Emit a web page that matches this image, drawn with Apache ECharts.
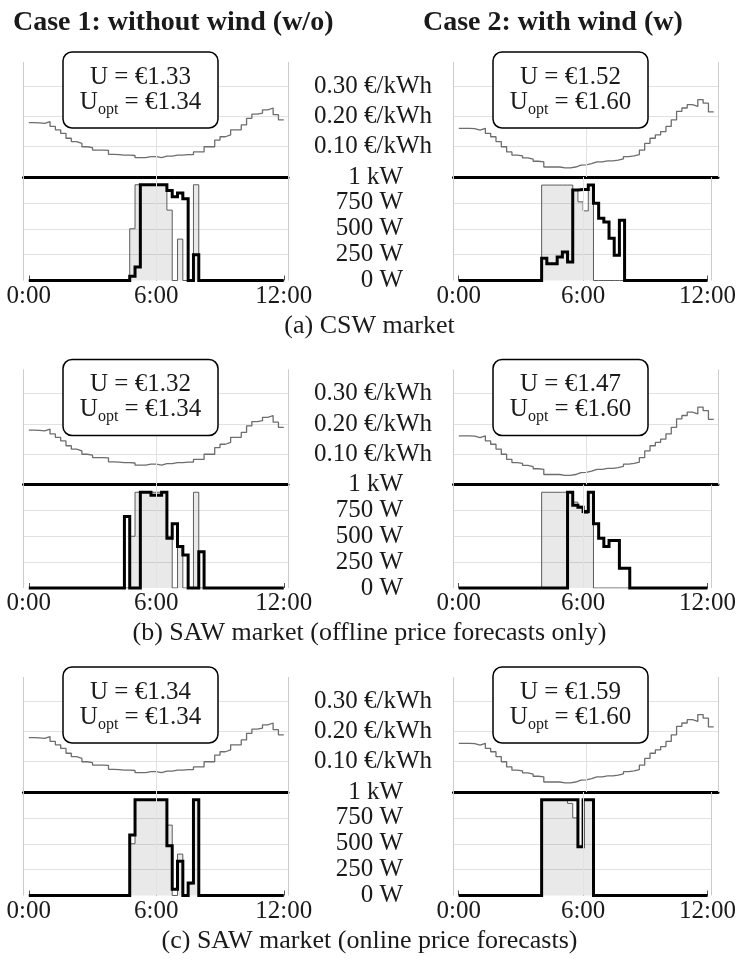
<!DOCTYPE html>
<html>
<head>
<meta charset="utf-8">
<script src="https://cdn.jsdelivr.net/npm/echarts@6/dist/echarts.min.js"></script>
<style>
  html, body { margin: 0; padding: 0; background: #fff; }
  #chart { width: 739px; height: 962px; }
</style>
</head>
<body>
<div id="chart"></div>
<script>
// ---- data -------------------------------------------------------------
const SLOT_HOURS = 0.25;               // one value per 15-minute slot
const timeTicks = [0, 6, 12];          // hours labelled on the time axis
const priceTicks = [0.1, 0.2, 0.3];    // €/kWh labels
const powerTicks = [0, 250, 500, 750, 1000];

const caseTitles = ['Case 1: without wind (w/o)', 'Case 2: with wind (w)'];
const marketCaptions = [
  '(a) CSW market',
  '(b) SAW market (offline price forecasts only)',
  '(c) SAW market (online price forecasts)'
];

// electricity price, €/kWh per slot
const priceWithout = [0.180,0.179,0.177,0.183,0.167,0.156,0.144,0.128,0.117,0.111,
  0.100,0.097,0.089,0.089,0.088,0.075,0.074,0.072,0.072,0.071,
  0.064,0.064,0.067,0.067,0.064,0.069,0.069,0.072,0.072,0.074,
  0.074,0.083,0.083,0.100,0.100,0.122,0.133,0.139,0.156,0.156,
  0.172,0.194,0.208,0.211,0.222,0.228,0.206,0.189];
const priceWith = [0.161,0.161,0.160,0.155,0.161,0.144,0.133,0.117,0.100,0.083,
  0.072,0.070,0.063,0.059,0.052,0.050,0.033,0.033,0.033,0.030,
  0.030,0.033,0.039,0.040,0.044,0.050,0.050,0.053,0.053,0.056,
  0.060,0.067,0.070,0.074,0.089,0.111,0.128,0.139,0.150,0.167,
  0.189,0.217,0.228,0.239,0.233,0.256,0.244,0.215];

// utility reached vs. optimum, € (rows: CSW, SAW offline, SAW online; cols: w/o, w)
const utilityU   = [[1.33, 1.52], [1.32, 1.47], [1.34, 1.59]];
const utilityOpt = [[1.34, 1.60], [1.34, 1.60], [1.34, 1.60]];

// power schedules, W per slot (opt = optimal schedule, act = realised schedule)
const optCswWithout = [0,0,0,0,0,0,0,0,0,0, 0,0,0,0,0,0,0,0,0,500,
  925,925,925,925,925,925,680,0,400,0, 0,925,0,0,0,0,0,0,0,0,
  0,0,0,0,0,0,0,0];
const actCswWithout = [0,0,0,0,0,0,0,0,0,0, 0,0,0,0,0,0,0,0,0,40,
  130,925,925,925,925,925,870,810,845,790, 0,250,0,0,0,0,0,0,0,0,
  0,0,0,0,0,0,0,0];
const optCswWith = [0,0,0,0,0,0,0,0,0,0, 0,0,0,0,0,0,922,922,922,922,
  922,922,874,760,673,922,0,0,0,0, 0,0,0,0,0,0,0,0,0,0,
  0,0,0,0,0,0,0,0];
const actCswWith = [0,0,0,0,0,0,0,0,0,0, 0,0,0,0,0,0,214,162,162,226,
  275,178,874,880,880,922,747,602,566,408, 243,583,0,0,0,0,0,0,0,0,
  0,0,0,0,0,0,0,0];
const optSawOffWithout = [0,0,0,0,0,0,0,0,0,0, 0,0,0,0,0,0,0,0,0,500,
  925,925,925,925,925,925,500,0,400,0, 0,925,0,0,0,0,0,0,0,0,
  0,0,0,0,0,0,0,0];
const actSawOffWithout = [0,0,0,0,0,0,0,0,0,0, 0,0,0,0,0,0,0,0,690,0,
  0,925,925,895,895,925,480,620,400,320, 0,0,350,0,0,0,0,0,0,0,
  0,0,0,0,0,0,0,0];
const optSawOffWith = [0,0,0,0,0,0,0,0,0,0, 0,0,0,0,0,0,925,925,925,925,
  925,925,830,790,720,925,0,0,0,0, 0,0,0,0,0,0,0,0,0,0,
  0,0,0,0,0,0,0,0];
const actSawOffWith = [0,0,0,0,0,0,0,0,0,0, 0,0,0,0,0,0,0,0,0,0,
  0,925,800,780,740,925,620,480,400,460, 460,190,190,0,0,0,0,0,0,0,
  0,0,0,0,0,0,0,0];
const optSawOnWithout = [0,0,0,0,0,0,0,0,0,0, 0,0,0,0,0,0,0,0,0,500,
  925,925,925,925,925,925,680,0,400,0, 110,925,0,0,0,0,0,0,0,0,
  0,0,0,0,0,0,0,0];
const actSawOnWithout = [0,0,0,0,0,0,0,0,0,0, 0,0,0,0,0,0,0,0,0,585,
  925,925,925,925,925,925,480,60,330,0, 120,925,0,0,0,0,0,0,0,0,
  0,0,0,0,0,0,0,0];
const optSawOnWith = [0,0,0,0,0,0,0,0,0,0, 0,0,0,0,0,0,925,925,925,925,
  925,890,750,470,925,925,0,0,0,0, 0,0,0,0,0,0,0,0,0,0,
  0,0,0,0,0,0,0,0];
const actSawOnWith = [0,0,0,0,0,0,0,0,0,0, 0,0,0,0,0,0,925,925,925,925,
  925,925,925,470,925,925,0,0,0,0, 0,0,0,0,0,0,0,0,0,0,
  0,0,0,0,0,0,0,0];

// ---- layout & style ---------------------------------------------------
const FONT = '"Liberation Serif", "DejaVu Serif", serif';
const INK = '#1a1a1a';
const GRID_C = '#e2e2e2';
const FRAME_C = '#cccccc';
const COL_LEFT = [23.5, 453.5];
const COL_SHIFT = [0, 430];
const ROW_SHIFT = [0, 307.5, 615];
const PLOT_W = 264.5;
const X_MIN = -0.25, X_MAX = 12.2;
const PRICE_MAX = 0.38;

const panels = [
  { row: 0, col: 0, price: priceWithout, opt: optCswWithout,    act: actCswWithout },
  { row: 0, col: 1, price: priceWith,    opt: optCswWith,       act: actCswWith },
  { row: 1, col: 0, price: priceWithout, opt: optSawOffWithout, act: actSawOffWithout },
  { row: 1, col: 1, price: priceWith,    opt: optSawOffWith,    act: actSawOffWith },
  { row: 2, col: 0, price: priceWithout, opt: optSawOnWithout,  act: actSawOnWithout },
  { row: 2, col: 1, price: priceWith,    opt: optSawOnWith,     act: actSawOnWith }
];

// piecewise-constant slots -> step points, closing the last slot
function toSteps(values) {
  const pts = values.map((v, k) => [k * SLOT_HOURS, v]);
  pts.push([values.length * SLOT_HOURS, values[values.length - 1]]);
  return pts;
}

// light frame edges plus the 6:00 grid line
function frameMarks() {
  return {
    silent: true, symbol: ['none', 'none'], label: { show: false }, animation: false,
    data: [
      { xAxis: X_MIN, lineStyle: { color: FRAME_C, width: 1, type: 'solid' } },
      { xAxis: 6,     lineStyle: { color: GRID_C,  width: 1, type: 'solid' } },
      { xAxis: X_MAX, lineStyle: { color: FRAME_C, width: 1, type: 'solid' } }
    ]
  };
}

const labelText = { fontFamily: FONT, fontSize: 25, color: INK };
const grids = [], xAxes = [], yAxes = [], series = [], graphics = [];

panels.forEach((p) => {
  const left = COL_LEFT[p.col];
  const dy = ROW_SHIFT[p.row];

  // price plot
  const gi = grids.length;
  grids.push({ left: left, top: 62 + dy, width: PLOT_W, height: 115 });
  xAxes.push({
    gridIndex: gi, type: 'value', min: X_MIN, max: X_MAX,
    axisLine: { show: true, onZero: false, lineStyle: { color: '#000', width: 3 } },
    axisTick: { show: false }, axisLabel: { show: false }, splitLine: { show: false }
  });
  yAxes.push({
    gridIndex: gi, type: 'value', min: 0, max: PRICE_MAX, interval: 0.1,
    axisLine: { show: false }, axisTick: { show: false },
    splitLine: { show: true, showMinLine: false, showMaxLine: false, lineStyle: { color: GRID_C, width: 1 } },
    axisLabel: p.col === 1
      ? Object.assign({ show: true, margin: 21.5, customValues: priceTicks,
          formatter: (v) => v.toFixed(2) + ' €/kWh' }, labelText)
      : { show: false }
  });
  series.push({
    type: 'line', xAxisIndex: gi, yAxisIndex: gi, data: toSteps(p.price), step: 'end',
    symbol: 'none', silent: true, z: 3,
    lineStyle: { color: '#6d6d6d', width: 1.3 },
    markLine: frameMarks()
  });

  // power plot
  const gp = grids.length;
  grids.push({ left: left, top: 177 + dy, width: PLOT_W, height: 103.5 });
  xAxes.push({
    gridIndex: gp, type: 'value', min: X_MIN, max: X_MAX,
    axisLine: { show: false },
    axisTick: { show: true, inside: true, length: 5, customValues: timeTicks, lineStyle: { color: '#555' } },
    axisLabel: Object.assign({ show: true, margin: 3, customValues: timeTicks,
      formatter: (v) => v + ':00' }, labelText),
    splitLine: { show: false }
  });
  yAxes.push({
    gridIndex: gp, type: 'value', min: 0, max: 1000, interval: 250,
    axisLine: { show: false }, axisTick: { show: false },
    splitLine: { show: true, showMinLine: false, showMaxLine: false, lineStyle: { color: GRID_C, width: 1 } },
    axisLabel: p.col === 1
      ? Object.assign({ show: true, margin: 50.5, customValues: powerTicks,
          formatter: (v) => (v >= 1000 ? (v / 1000) + ' kW' : v + ' W') }, labelText)
      : { show: false }
  });
  series.push({
    type: 'line', xAxisIndex: gp, yAxisIndex: gp, data: toSteps(p.opt), step: 'end',
    symbol: 'none', silent: true, z: 2,
    lineStyle: { color: '#5c5c5c', width: 1 },
    areaStyle: { color: 'rgba(0,0,0,0.12)' },
    markLine: frameMarks()
  });
  series.push({
    type: 'line', xAxisIndex: gp, yAxisIndex: gp, data: toSteps(p.act), step: 'end',
    symbol: 'none', silent: true, z: 4, clip: false,
    lineStyle: { color: '#000', width: 3, join: 'miter' }
  });

  // utility box
  const cx = 140.5 + COL_SHIFT[p.col];
  graphics.push({
    type: 'rect', z: 100,
    shape: { x: cx - 77.5, y: 52 + dy, width: 155, height: 76, r: 9 },
    style: { fill: '#fff', stroke: '#000', lineWidth: 1.5 }
  });
  graphics.push({
    type: 'text', z: 101, x: cx, y: 77 + dy,
    style: { text: 'U = €' + utilityU[p.row][p.col].toFixed(2), font: '25px ' + FONT,
      fill: INK, align: 'center', verticalAlign: 'middle' }
  });
  graphics.push({
    type: 'text', z: 101, x: cx, y: 102 + dy,
    style: {
      text: '{m|U}{s|opt}{m| = €' + utilityOpt[p.row][p.col].toFixed(2) + '}',
      align: 'center', verticalAlign: 'middle', fill: INK,
      rich: {
        m: { fontFamily: FONT, fontSize: 25, lineHeight: 25, fill: INK },
        s: { fontFamily: FONT, fontSize: 16, lineHeight: 16, padding: [15, 0, 0, 0], fill: INK }
      }
    }
  });
});

// column titles
caseTitles.forEach((t, c) => {
  graphics.push({
    type: 'text', z: 101, x: 13 + 410 * c, y: 23,
    style: { text: t, font: 'bold 28px ' + FONT, fill: INK, align: 'left', verticalAlign: 'middle' }
  });
});

// row captions
marketCaptions.forEach((t, r) => {
  graphics.push({
    type: 'text', z: 101, x: 369.5, y: 326 + ROW_SHIFT[r],
    style: { text: t, font: '26px ' + FONT, fill: INK, align: 'center', verticalAlign: 'middle' }
  });
});

const chart = echarts.init(document.getElementById('chart'), null, { renderer: 'canvas' });
chart.setOption({
  animation: false,
  backgroundColor: '#fff',
  grid: grids,
  xAxis: xAxes,
  yAxis: yAxes,
  series: series,
  graphic: graphics
});
</script>
</body>
</html>
